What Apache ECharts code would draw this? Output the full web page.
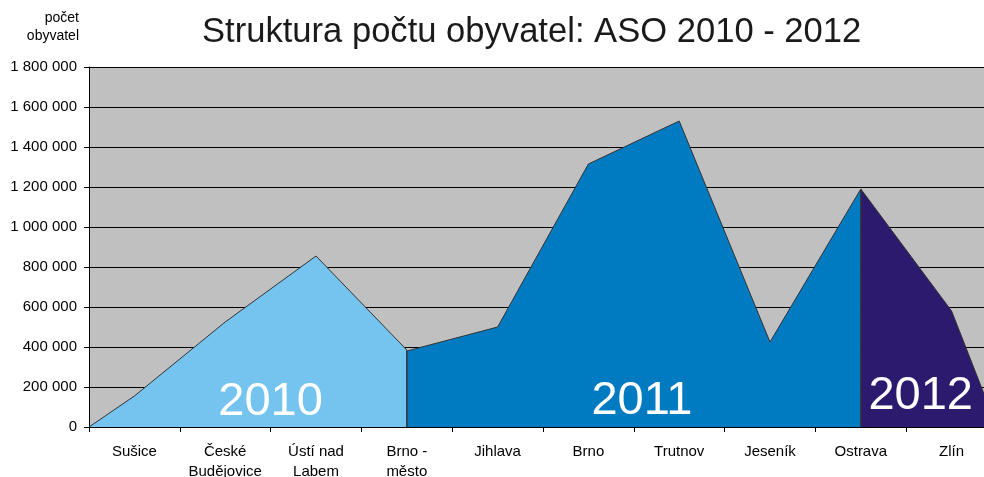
<!DOCTYPE html>
<html>
<head>
<meta charset="utf-8">
<script src="https://cdn.jsdelivr.net/npm/echarts@6/dist/echarts.min.js"></script>
<style>
  html, body { margin: 0; padding: 0; background: #ffffff; }
  #main { width: 984px; height: 477px; }
</style>
</head>
<body>
<div id="main"></div>
<script>
// okresy (kategorie na ose x)
var categories = ['Sušice', 'České\nBudějovice', 'Ústí nad\nLabem', 'Brno -\nměsto', 'Jihlava',
  'Brno', 'Trutnov', 'Jeseník', 'Ostrava', 'Zlín'];

// počet obyvatel podle roku
var pop2010 = [155000, 525000, 855000, 385000, null, null, null, null, null, null];
var pop2011 = [null, null, null, 380000, 500000, 1315000, 1530000, 425000, 1190000, null];
var pop2012 = [null, null, null, null, null, null, null, null, 1190000, 580000];

var years = ['2010', '2011', '2012'];
var yTicks = [0, 200000, 400000, 600000, 800000, 1000000, 1200000, 1400000, 1600000, 1800000];

var colors = ['#75c4ef', '#007ac0', '#2b1a6d'];
// poloha velkých popisků roku (v jednotkách os)
var yearLabelPos = [[2.0, 127000], [6.09, 132000], [9.16, 155000]];

// polygon plochy: body ve středech kategorií, na okrajích grafu dojde k nule
function buildArea(values) {
  var idx = [];
  values.forEach(function (v, i) { if (v !== null) idx.push(i); });
  var first = idx[0], last = idx[idx.length - 1];
  var pts = [];
  pts.push([first === 0 ? 0 : first + 0.5, 0]);
  idx.forEach(function (i) { pts.push([i + 0.5, values[i]]); });
  pts.push([last === values.length - 1 ? values.length : last + 0.5, 0]);
  return pts;
}

function fmt(v) {
  return String(v).replace(/\B(?=(\d{3})+(?!\d))/g, ' ');
}

var chart = echarts.init(document.getElementById('main'), null, { renderer: 'canvas' });

var series = [pop2010, pop2011, pop2012].map(function (vals, k) {
  return {
    name: years[k],
    type: 'line',
    xAxisIndex: 1,
    data: buildArea(vals),
    showSymbol: false,
    symbol: 'none',
    lineStyle: { color: '#333333', width: 1 },
    areaStyle: { color: colors[k], opacity: 1 },
    z: 3,
    markPoint: {
      symbol: 'circle',
      symbolSize: 1,
      itemStyle: { color: 'rgba(0,0,0,0)' },
      label: {
        show: true,
        position: 'inside',
        formatter: years[k],
        color: '#ffffff',
        fontSize: 47,
        fontFamily: 'Liberation Sans'
      },
      data: [{ coord: yearLabelPos[k] }]
    }
  };
});

var option = {
  backgroundColor: '#ffffff',
  animation: false,
  textStyle: { fontFamily: 'Liberation Sans' },
  title: {
    text: 'Struktura počtu obyvatel: ASO 2010 - 2012',
    left: 197,
    top: 10,
    textStyle: { fontSize: 34.6, fontWeight: 'normal', color: '#1a1a1a', fontFamily: 'Liberation Sans' }
  },
  grid: {
    left: 89,
    top: 67,
    right: -13,
    bottom: 50,
    outerBoundsMode: 'none',
    containLabel: false,
    show: true,
    backgroundColor: '#c0c0c0',
    borderWidth: 0
  },
  xAxis: [{
    type: 'category',
    data: categories,
    boundaryGap: true,
    axisLine: { lineStyle: { color: '#000000', width: 1 } },
    axisTick: { show: true, length: 5, lineStyle: { color: '#000000' } },
    axisLabel: { color: '#000000', fontSize: 15, lineHeight: 20, margin: 15, interval: 0 },
    splitLine: { show: false },
    z: 5
  }, {
    type: 'value',
    min: 0,
    max: categories.length,
    show: false
  }],
  yAxis: {
    type: 'value',
    min: 0,
    max: yTicks[yTicks.length - 1],
    interval: 200000,
    name: 'počet\nobyvatel',
    nameLocation: 'end',
    nameGap: 22,
    nameTextStyle: { align: 'right', color: '#000000', fontSize: 14, lineHeight: 18, padding: [0, 10, 0, 0] },
    axisLine: { show: true, lineStyle: { color: '#000000', width: 1 } },
    axisTick: { show: true, length: 5, lineStyle: { color: '#000000' } },
    axisLabel: { color: '#000000', fontSize: 15, margin: 12, formatter: fmt },
    splitLine: { show: true, lineStyle: { color: '#000000', width: 1 } }
  },
  series: series
};

chart.setOption(option);
</script>
</body>
</html>
